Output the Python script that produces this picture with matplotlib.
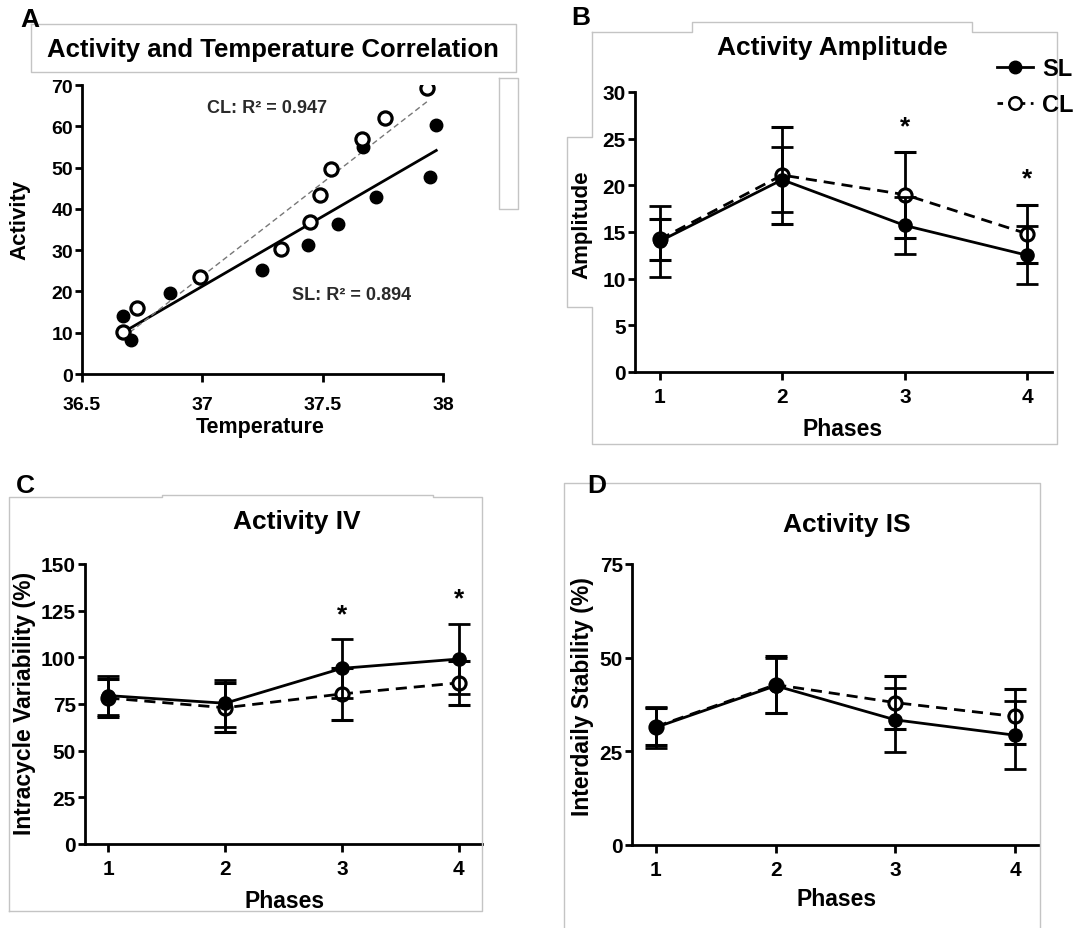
import numpy as np
import matplotlib.pyplot as plt
from matplotlib.lines import Line2D
from matplotlib.ticker import FormatStrFormatter

plt.rcParams['font.family'] = ['Liberation Sans', 'DejaVu Sans']
plt.rcParams['font.weight'] = 'bold'
plt.rcParams['axes.labelweight'] = 'bold'

# panel A: activity vs temperature
sl_temp = [36.67, 36.705, 36.864, 37.249, 37.437, 37.562, 37.668, 37.72, 37.948, 37.972]
sl_act = [14.0, 8.3, 19.7, 25.3, 31.2, 36.4, 55.0, 42.9, 47.7, 60.4]
cl_temp = [36.67, 36.728, 36.991, 37.327, 37.447, 37.489, 37.535, 37.665, 37.759, 37.935]
cl_act = [10.1, 16.1, 23.5, 30.3, 36.7, 43.4, 49.6, 56.8, 62.0, 69.2]
r2_labels = ["CL: R\u00b2 = 0.947", "SL: R\u00b2 = 0.894"]

# panels B-D: means and errors per phase
phases = [1, 2, 3, 4]
amp_sl = [14.0, 20.6, 15.7, 12.5]
amp_sl_err = [3.8, 3.5, 3.1, 3.1]
amp_cl = [14.2, 21.1, 19.0, 14.8]
amp_cl_err = [2.2, 5.2, 4.6, 3.1]
iv_sl = [79.5, 75.4, 94.1, 99.1]
iv_sl_err = [10.3, 12.6, 15.7, 19.0]
iv_cl = [78.2, 73.0, 80.4, 86.3]
iv_cl_err = [10.2, 13.2, 14.0, 11.7]
is_sl = [31.4, 42.5, 33.4, 29.3]
is_sl_err = [5.5, 7.4, 8.6, 9.1]
is_cl = [31.6, 42.8, 38.0, 34.3]
is_cl_err = [5.0, 7.7, 7.1, 7.3]

W, H = 1090, 929
fig = plt.figure(figsize=(W / 100, H / 100), dpi=100)


def fx(x):
    return x / W


def fy(y):
    return 1 - y / H


def box(xs, ys, c='#c4c4c4'):
    fig.add_artist(Line2D([fx(v) for v in xs], [fy(v) for v in ys], color=c, lw=1.0,
                          transform=fig.transFigure))


def axes_px(l, t, r, b):
    return fig.add_axes([fx(l), fy(b), fx(r) - fx(l), fy(t) - fy(b)])


def style(ax, size, xpad=4):
    ax.spines['top'].set_visible(False)
    ax.spines['right'].set_visible(False)
    for s in ['left', 'bottom']:
        ax.spines[s].set_linewidth(2.0)
    ax.tick_params(width=2.0, labelsize=size, direction='out')
    ax.tick_params(axis='x', length=6, pad=xpad)
    ax.tick_params(axis='y', length=5, pad=1.5)
    for lab in ax.get_xticklabels() + ax.get_yticklabels():
        lab.set_fontweight('bold')
    ax.yaxis.label.set_va('center')
    ax.xaxis.label.set_va('center')


def place_labels(ax, rect, xl, yl):
    l, t, r, b = rect
    ax.xaxis.set_label_coords((xl[0] - l) / (r - l), (b - xl[1]) / (b - t))
    ax.yaxis.set_label_coords((yl[0] - l) / (r - l), (b - yl[1]) / (b - t))


# background outlines
box([31, 516, 516, 31, 31], [25, 25, 73, 73, 25])
box([499, 518, 518, 499, 499], [79, 79, 210, 210, 79])
box([592, 692, 692, 972, 972, 1057, 1057, 592, 592, 567, 567, 592, 592],
    [33, 33, 23, 23, 33, 33, 445, 445, 308, 308, 138, 138, 33])
box([9, 9, 162, 162, 433, 433, 482, 482, 9], [912, 498, 498, 496, 496, 498, 498, 912, 912])
box([564, 564, 1040, 1040], [929, 484, 484, 929])

# ---- A
rect_a = (82, 86, 443, 375)
ax = axes_px(*rect_a)
ax.plot(sl_temp, sl_act, 'o', color='black', ms=9, zorder=3)
ax.plot(cl_temp, cl_act, 'o', mfc='white', mec='black', mew=2.3, ms=9.5, zorder=3)
k, b0 = np.polyfit(sl_temp, sl_act, 1)
xs = np.array([min(sl_temp) + 0.02, max(sl_temp)])
ax.plot(xs, k * xs + b0, '-', color='black', lw=2.0)
k, b0 = np.polyfit(cl_temp, cl_act, 1)
xs = np.array([min(cl_temp), max(cl_temp)])
ax.plot(xs, k * xs + b0, '--', color='#777777', lw=1.0, dashes=(4, 2.5))
ax.set_xlim(36.5, 38)
ax.set_ylim(0, 70)
ax.set_xticks([36.5, 37, 37.5, 38])
ax.xaxis.set_major_formatter(FormatStrFormatter('%g'))
ax.set_yticks(range(0, 71, 10))
ax.text(37.27, 64.5, r2_labels[0], ha='center', va='center', fontsize=13, color='#2a2a2a')
ax.text(37.62, 19.2, r2_labels[1], ha='center', va='center', fontsize=13, color='#2a2a2a')
ax.set_xlabel('Temperature', fontsize=15.5)
ax.set_ylabel('Activity', fontsize=16)
style(ax, 14, xpad=10)
place_labels(ax, rect_a, (260, 428), (20, 220))
fig.text(fx(273), fy(50), 'Activity and Temperature Correlation', ha='center', va='center',
         fontsize=18.5, fontweight='bold')
fig.text(fx(30), fy(20), 'A', ha='center', va='center', fontsize=19, fontweight='bold')


def phase_panel(rect, sl, sl_err, cl, cl_err, ymax, ystep, ylabel, ylsize, title, tpos,
                stars, label, lpos, xlpos, ylpos):
    ax = axes_px(*rect)
    ax.errorbar(phases, cl, yerr=cl_err, fmt='o--', color='black', mfc='white', mec='black',
                mew=2.2, ms=9.5, lw=2.0, capsize=8, capthick=2.0, elinewidth=2.0, zorder=2,
                dashes=(4, 2.5))
    ax.errorbar(phases, sl, yerr=sl_err, fmt='o-', color='black', ms=9.5, lw=2.0, capsize=8,
                capthick=2.0, elinewidth=2.0, zorder=3)
    ax.set_xlim(0.8, 4.2)
    ax.set_ylim(0, ymax)
    ax.set_xticks(phases)
    ax.set_yticks(np.arange(0, ymax + 1, ystep))
    for sx, sy in stars:
        ax.text(sx, sy, '*', ha='center', va='center', fontsize=19, fontweight='bold')
    ax.set_xlabel('Phases', fontsize=16.5)
    ax.set_ylabel(ylabel, fontsize=ylsize)
    style(ax, 15, xpad=5)
    place_labels(ax, rect, xlpos, ylpos)
    fig.text(fx(tpos[0]), fy(tpos[1]), title, ha='center', va='center', fontsize=19,
             fontweight='bold')
    fig.text(fx(lpos[0]), fy(lpos[1]), label, ha='center', va='center', fontsize=19,
             fontweight='bold')
    return ax


phase_panel((635, 93, 1052, 373), amp_sl, amp_sl_err, amp_cl, amp_cl_err, 30, 5,
            'Amplitude', 16, 'Activity Amplitude', (832, 48), [(3, 26.3), (4, 20.8)],
            'B', (581, 18), (843, 430), (582, 225))
h1 = Line2D([], [], color='black', marker='o', ms=9, lw=2.0)
h2 = Line2D([], [], color='black', marker='o', ms=9, lw=2.0, ls='--', mfc='white', mew=1.8,
            dashes=(2, 2))
fig.legend([h1, h2], ['SL', 'CL'], loc='upper left', bbox_to_anchor=(fx(976), fy(37)),
           frameon=False, prop={'size': 17, 'weight': 'bold'}, handlelength=1.5,
           labelspacing=0.55, handletextpad=0.4)

phase_panel((85, 565, 482, 845), iv_sl, iv_sl_err, iv_cl, iv_cl_err, 150, 25,
            'Intracycle Variability (%)', 16.5, 'Activity IV', (297, 522),
            [(3, 123), (4, 131.5)], 'C', (25, 486), (285, 902), (25, 703))
phase_panel((632, 565, 1039, 846), is_sl, is_sl_err, is_cl, is_cl_err, 75, 25,
            'Interdaily Stability (%)', 16.5, 'Activity IS', (847, 525), [], 'D', (597, 486),
            (837, 900), (582, 697))

fig.savefig('out.png', dpi=100, facecolor='white')
